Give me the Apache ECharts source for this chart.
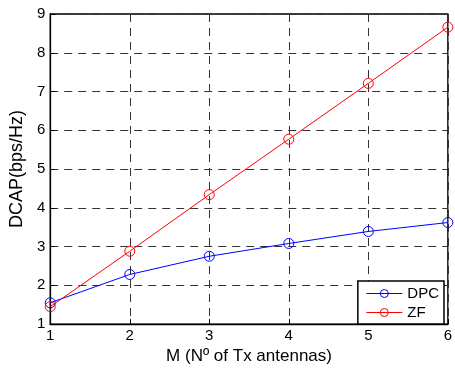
<!DOCTYPE html>
<html><head><meta charset="utf-8">
<script src="https://cdn.jsdelivr.net/npm/echarts@6/dist/echarts.min.js"></script>
<style>html,body{margin:0;padding:0;background:#fff}#c{width:455px;height:370px}</style>
</head><body><div id="c"></div>
<script>
var antennas = [1, 2, 3, 4, 5, 6];
var dpc = [1.55, 2.28, 2.75, 3.08, 3.39, 3.62];
var zf = [1.45, 2.88, 4.34, 5.77, 7.21, 8.66];
var seriesNames = ['DPC', 'ZF'];
var xTitle = 'M (Nº of Tx antennas)';
var yTitle = 'DCAP(bps/Hz)';

var font = 'Liberation Sans, Arial, Helvetica, sans-serif';
function pairs(xs, ys){ return xs.map(function(x,i){return [x, ys[i]];}); }
var chart = echarts.init(document.getElementById('c'), null, {renderer:'canvas'});
chart.setOption({
  animation: false,
  backgroundColor: '#fff',
  grid: {left: 50, right: 6, top: 14, bottom: 41, show: true, borderColor: '#000', borderWidth: 1.3, backgroundColor: 'transparent'},
  legend: {
    right: 11, bottom: 46, orient: 'vertical', itemWidth: 36, itemHeight: 10, itemGap: 4,
    backgroundColor: '#fff', borderColor: '#000', borderWidth: 1.5, padding: [5, 5, 4, 8],
    textStyle: {fontFamily: font, fontSize: 15, color: '#000'},
    lineStyle: {width: 1},
    itemStyle: {borderWidth: 1},
    data: seriesNames
  },
  xAxis: {
    type: 'value', min: 1, max: 6, interval: 1,
    name: xTitle, nameLocation: 'middle', nameGap: 21,
    nameTextStyle: {fontFamily: font, fontSize: 17, color: '#000'},
    axisLine: {show: true, lineStyle: {color: '#000', width: 1.3}},
    axisTick: {show: true, inside: true, length: 5, lineStyle: {color: '#000'}},
    axisLabel: {fontFamily: font, fontSize: 15, color: '#000', margin: 4},
    splitLine: {show: true, lineStyle: {type: [8, 6], color: '#333', width: 1}}
  },
  yAxis: {
    type: 'value', min: 1, max: 9, interval: 1,
    name: yTitle, nameLocation: 'middle', nameGap: 18,
    nameTextStyle: {fontFamily: font, fontSize: 18, color: '#000'},
    axisLine: {show: true, lineStyle: {color: '#000', width: 1.3}},
    axisTick: {show: true, inside: true, length: 5, lineStyle: {color: '#000'}},
    axisLabel: {fontFamily: font, fontSize: 15, color: '#000', margin: 5},
    splitLine: {show: true, lineStyle: {type: [8, 6], color: '#333', width: 1}}
  },
  series: [
    {name: seriesNames[0], type: 'line', data: pairs(antennas, dpc), symbol: 'circle', symbolSize: 10,
     lineStyle: {color: '#0000ff', width: 1}, itemStyle: {color: 'rgba(0,0,0,0)', borderColor: '#0000ff', borderWidth: 1}, z: 3},
    {name: seriesNames[1], type: 'line', data: pairs(antennas, zf), symbol: 'circle', symbolSize: 10,
     lineStyle: {color: '#ff0000', width: 1}, itemStyle: {color: 'rgba(0,0,0,0)', borderColor: '#ff0000', borderWidth: 1}, z: 4}
  ]
});
</script></body></html>
